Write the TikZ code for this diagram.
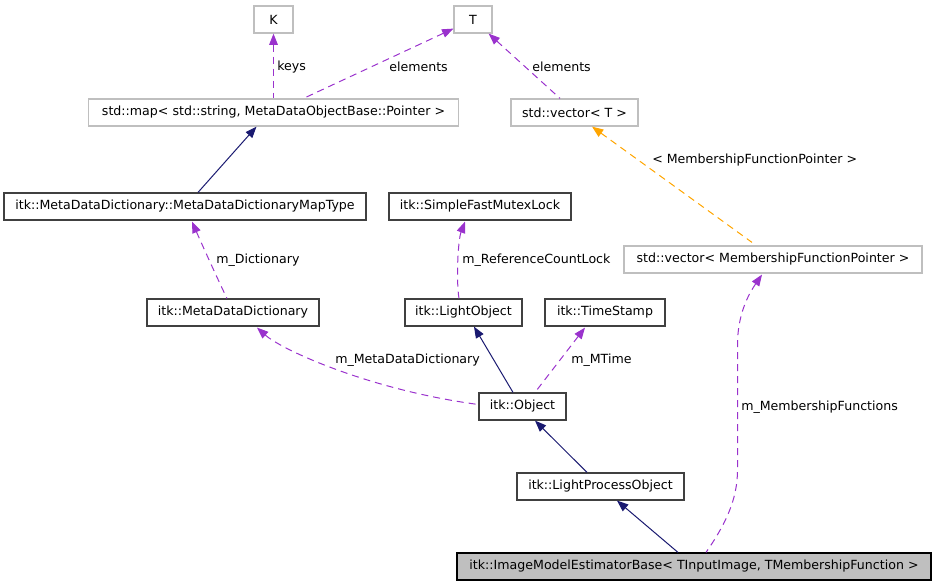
\documentclass[tikz,border=0pt]{standalone}
\usepackage{fontspec}
\setmainfont{DejaVu Sans}
\usetikzlibrary{arrows.meta,calc}
\definecolor{purp}{HTML}{9A32CD}
\definecolor{navy}{HTML}{191970}
\definecolor{orng}{HTML}{FFA500}
\definecolor{gborder}{HTML}{BFBFBF}
\definecolor{bborder}{HTML}{404040}
\begin{document}
\begin{tikzpicture}[x=0.75pt,y=-0.75pt,
  every node/.style={font=\fontsize{9.45}{11}\selectfont},
  box/.style={draw=bborder,line width=0.9pt,minimum height=20.25pt,inner sep=0pt,fill=white},
  gbox/.style={draw=gborder,line width=0.9pt,minimum height=20.25pt,inner sep=0pt,fill=white},
  mainbox/.style={draw=black,line width=0.9pt,minimum height=20.25pt,inner sep=0pt,fill=gborder},
  usep/.style={purp,line width=0.75pt,dash pattern=on 5.25pt off 3.75pt,{Triangle[length=8.5pt,width=6.5pt]}-},
  inh/.style={navy,line width=0.75pt,{Triangle[length=8.5pt,width=6.5pt]}-},
  tmpl/.style={orng,line width=0.75pt,dash pattern=on 5.25pt off 3.75pt,{Triangle[length=8.5pt,width=6.5pt]}-},
  lbl/.style={anchor=west,inner sep=0pt}]
\useasboundingbox (0,0) rectangle (936,587);
\node[gbox,minimum width=29.25pt] (K) at (273.5,19.5) {K};
\node[gbox,minimum width=28.5pt] (T) at (473,19.5) {T};
\node[gbox,minimum width=277.5pt] (map) at (273.5,112.5) {std::map< std::string, MetaDataObjectBase::Pointer >};
\node[gbox,minimum width=95.25pt] (vecT) at (574.5,112.5) {std::vector< T >};
\node[box,minimum width=271.5pt] (mapt) at (185,206.5) {itk::MetaDataDictionary::MetaDataDictionaryMapType};
\node[box,minimum width=136.5pt] (mutex) at (480,206.5) {itk::SimpleFastMutexLock};
\node[gbox,minimum width=223.5pt] (vecM) at (773,259.5) {std::vector< MembershipFunctionPointer >};
\node[box,minimum width=129pt] (mdd) at (233,312.5) {itk::MetaDataDictionary};
\node[box,minimum width=87.75pt] (lo) at (463.5,312.5) {itk::LightObject};
\node[box,minimum width=90pt] (ts) at (605,312.5) {itk::TimeStamp};
\node[box,minimum width=65.25pt] (obj) at (522.5,406.5) {itk::Object};
\node[box,minimum width=125.25pt] (lpo) at (600.5,486.5) {itk::LightProcessObject};
\node[mainbox,minimum width=355.5pt] (img) at (694,566.5) {itk::ImageModelEstimatorBase< TInputImage, TMembershipFunction >};

% edges
\draw[usep] (K.south) -- (map.north);
\draw[usep] ($(T.south west)+(0,-5)$) -- ($(map.north)+(30,0)$);
\draw[usep] ($(T.south east)+(-4,0)$) -- ($(vecT.north)+(-14.5,0)$);
\draw[inh] ($(map.south)+(-17,0)$) -- ($(mapt.north)+(13,0)$);
\draw[tmpl] ($(vecT.south)+(17.5,0)$) -- ($(vecM.north)+(-21,-3)$);
\draw[usep] ($(mapt.south)+(7,1)$) .. controls (200,240) and (218,280) .. ($(mdd.north)+(-6,0)$);
\draw[usep] ($(mutex.south)+(-15,1)$) .. controls (458,240) and (456,280) .. ($(lo.north)+(-4.5,0)$);
\draw[usep] ($(mdd.south)+(24,1)$) .. controls (282,350) and (370,390) .. ($(obj.west)+(0,-2)$);
\draw[inh] ($(lo.south)+(10.5,0)$) -- ($(obj.north)+(-9.5,0)$);
\draw[usep] ($(ts.south)+(-20,1)$) -- ($(obj.north)+(12.5,0)$);
\draw[inh] ($(obj.south)+(12.5,0)$) -- ($(lpo.north)+(-13.5,0)$);
\draw[inh] ($(lpo.south)+(16.5,0)$) -- ($(img.north)+(-16,0)$);
\draw[usep] ($(vecM.south)+(-11,1)$) .. controls (748,295) and (737.5,315) .. (737.5,345) -- (737.5,470) .. controls (737.5,500) and (725,525) .. ($(img.north)+(12,0)$);

% labels
\node[lbl] (l1) at (277,67) {keys};
\node[lbl] (l2) at (389,67) {elements};
\node[lbl] (l3) at (532,67) {elements};
\node[lbl] (l4) at (652,160) {< MembershipFunctionPointer >};
\node[lbl] (l5) at (216,260) {m\_Dictionary};
\node[lbl] (l6) at (462,260) {m\_ReferenceCountLock};
\node[lbl] (l7) at (335,360) {m\_MetaDataDictionary};
\node[lbl] (l8) at (571,360) {m\_MTime};
\node[lbl] (l9) at (741,407) {m\_MembershipFunctions};
\end{tikzpicture}
\end{document}
